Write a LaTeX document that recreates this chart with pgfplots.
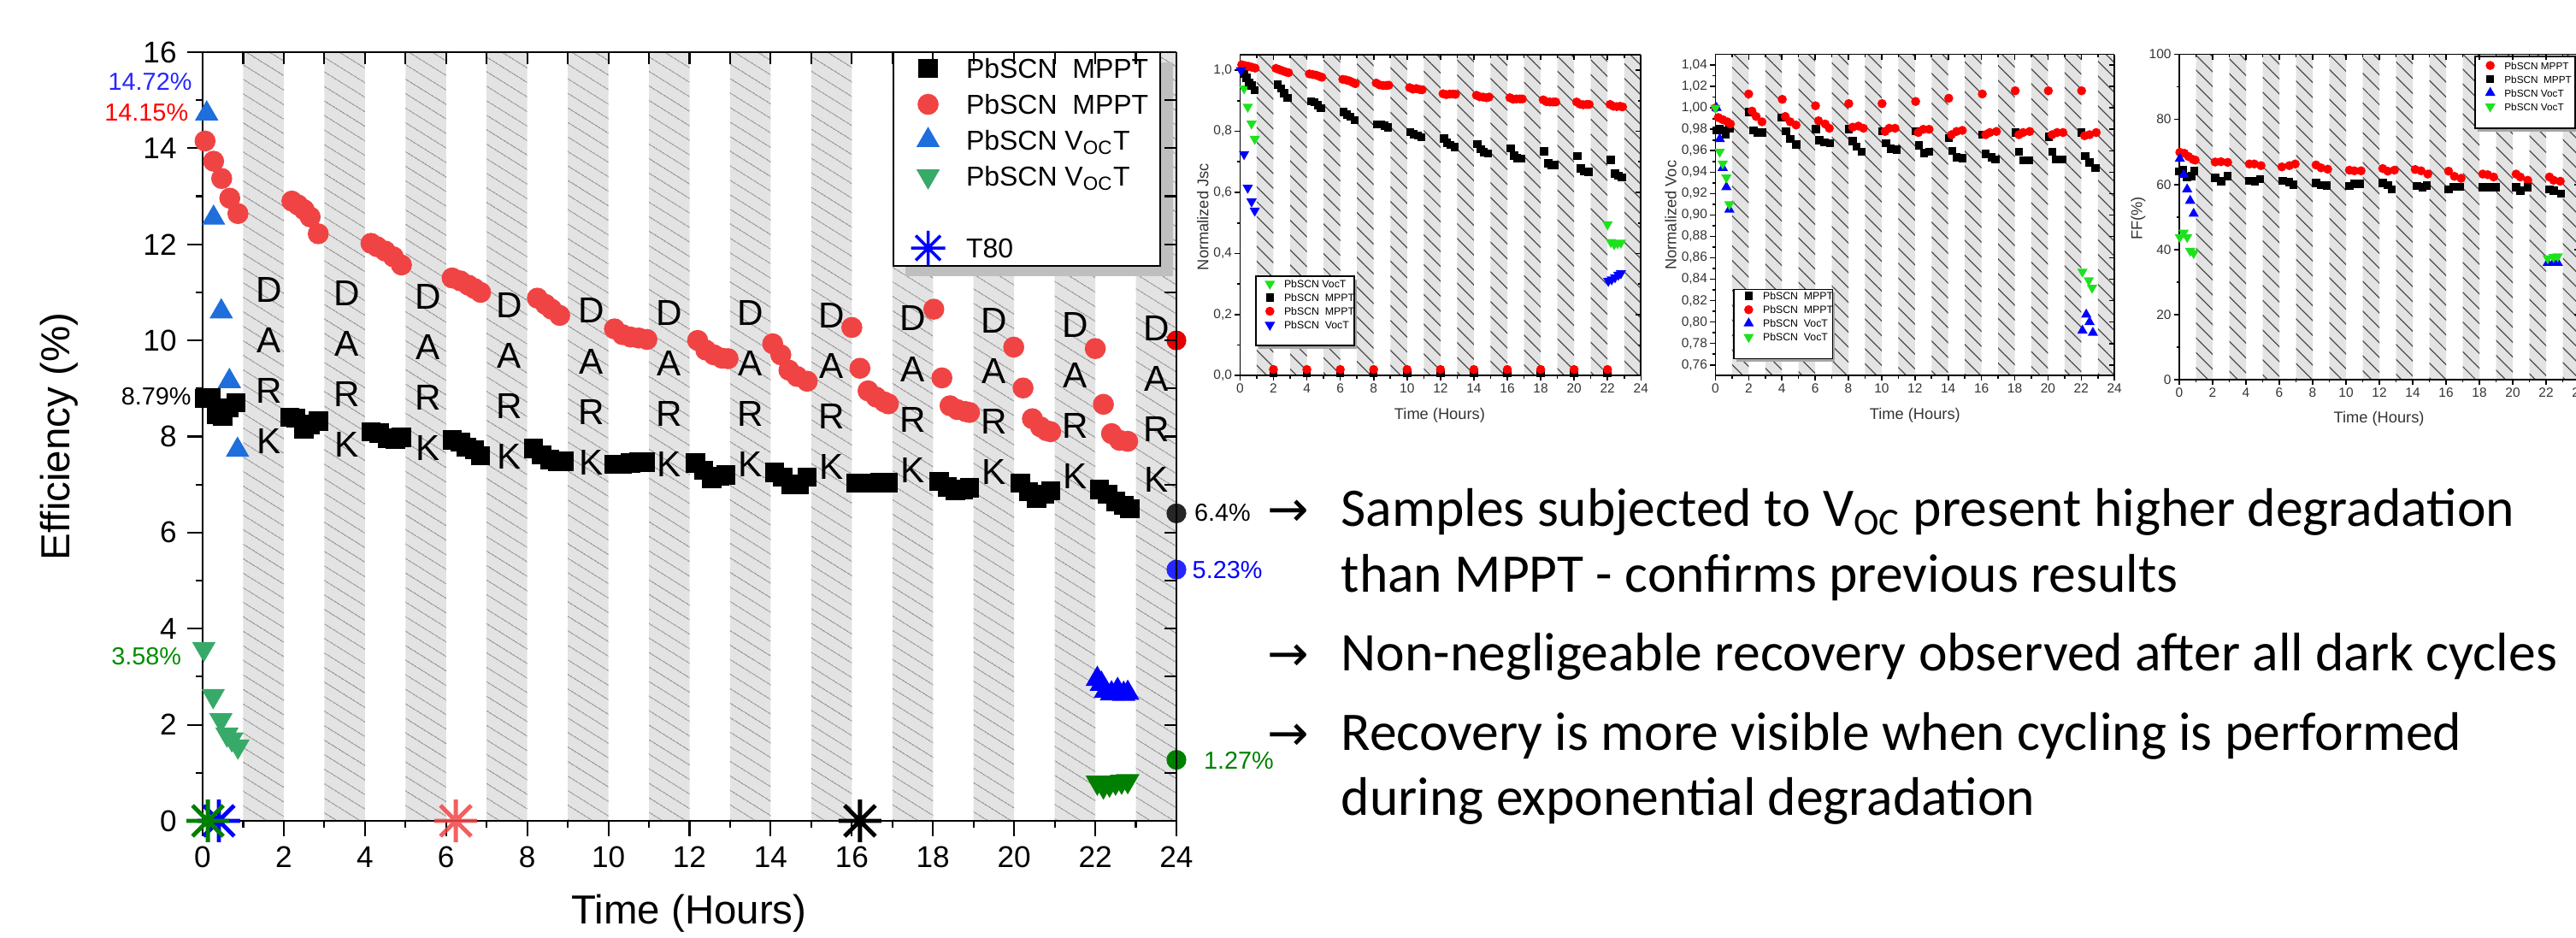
\documentclass[border=0pt]{standalone}
\usepackage{fontspec}
\setmainfont{Liberation Sans}
\newfontfamily\calibri{Carlito}
\newfontfamily\dejavu{DejaVu Sans}
\usepackage{pgfplots}
\pgfplotsset{compat=1.18}
\usetikzlibrary{patterns.meta}

\definecolor{mred}{RGB}{240,68,68}
\definecolor{mblue}{RGB}{30,110,220}
\definecolor{mgreen}{RGB}{55,170,105}
\definecolor{dgreen}{RGB}{0,128,0}
\definecolor{pblue}{RGB}{0,0,255}
\definecolor{stripegray}{RGB}{227,227,227}
\definecolor{lgreen}{RGB}{30,225,30}

% eight-spoke asterisk used for the T80 points
\pgfdeclareplotmark{ast8}{%
  \pgfpathmoveto{\pgfqpoint{-\pgfplotmarksize}{0pt}}%
  \pgfpathlineto{\pgfqpoint{\pgfplotmarksize}{0pt}}%
  \pgfpathmoveto{\pgfqpoint{0pt}{-\pgfplotmarksize}}%
  \pgfpathlineto{\pgfqpoint{0pt}{\pgfplotmarksize}}%
  \pgfpathmoveto{\pgfqpoint{-0.72\pgfplotmarksize}{-0.72\pgfplotmarksize}}%
  \pgfpathlineto{\pgfqpoint{0.72\pgfplotmarksize}{0.72\pgfplotmarksize}}%
  \pgfpathmoveto{\pgfqpoint{-0.72\pgfplotmarksize}{0.72\pgfplotmarksize}}%
  \pgfpathlineto{\pgfqpoint{0.72\pgfplotmarksize}{-0.72\pgfplotmarksize}}%
  \pgfusepathqstroke}

\pgfplotsset{
  dark/.style n args={4}{forget plot, const plot, draw=none, fill=stripegray,
    postaction={pattern={Lines[angle=#1,distance=#2,line width=#3]}, pattern color=#4}},
  legimg/.style={legend image code/.code={\draw[##1] plot coordinates {(0mm,0mm)}; \path (-#1,0mm) (#1,0mm);}},
  astleg/.style={legend image code/.code={\draw[##1, mark size=5.7pt, line width=1pt] plot coordinates {(0mm,0mm)}; \path (-2.6mm,0mm) (2.6mm,0mm);}},
  small/.style={scale only axis, anchor=south west, xmin=0, xmax=24,
    xtick={0,2,...,24}, minor xtick={1,3,...,23},
    axis x line*=bottom, axis y line*=left, tick align=outside,
    major tick length=0.6mm, minor tick length=0.35mm,
    axis line style={line width=0.5pt}, every tick/.style={black, line width=0.45pt},
    /pgf/number format/assume math mode=true,
    tick label style={font=\fontsize{4.4}{5}\selectfont, text=black!80, inner sep=0.8pt},
    label style={font=\fontsize{5.2}{6}\selectfont, text=black!80},
    xlabel={Time (Hours)}, axis on top,
    legend style={draw=none, fill=none, anchor=north west, inner sep=0pt, outer sep=0pt,
      font=\fontsize{3.5}{4}\selectfont, column sep=0.5mm, row sep=0pt,
      nodes={inner sep=0pt, text height=1.25mm, text depth=0.35mm}},
    legend cell align=left},
  smallover/.style={scale only axis, anchor=south west, xmin=0, xmax=24,
    axis x line*=top, axis y line*=right, tick align=inside,
    xtick={0,2,...,24}, minor xtick={1,3,...,23}, xticklabels={}, yticklabels={},
    major tick length=0.6mm, minor tick length=0.35mm,
    axis line style={line width=0.5pt}, every tick/.style={black, line width=0.45pt}},
}

\begin{document}
\begin{tikzpicture}
\useasboundingbox (0,0) rectangle (301.3mm,109.7mm);

%================ main efficiency chart ================
\begin{axis}[
  at={(23.7mm,13.7mm)}, anchor=south west, scale only axis,
  width=113.9mm, height=89.9mm,
  xmin=0, xmax=24, ymin=0, ymax=16,
  xtick={0,2,...,24}, ytick={0,2,...,16},
  minor xtick={1,3,...,23}, minor ytick={1,3,...,15},
  axis x line*=bottom, axis y line*=left, tick align=outside,
  major tick length=1.8mm, minor tick length=0.8mm,
  axis line style={line width=0.6pt},
  every tick/.style={black, line width=0.6pt},
  /pgf/number format/assume math mode=true,
  tick label style={font=\fontsize{10}{12}\selectfont},
  xlabel={Time (Hours)}, ylabel={Efficiency (\%)},
  label style={font=\fontsize{13.5}{16}\selectfont},
  xlabel style={at={(axis description cs:0.4996,-0.1346)}, anchor=base},
  ylabel style={at={(axis description cs:-0.1475,0.5)}, anchor=center},
  clip=false, axis on top,
  legend style={at={(axis description cs:0.720,1.0022)}, anchor=north west,
    draw=none, fill=none, inner sep=0pt, outer sep=0pt,
    column sep=1.6mm, row sep=0pt, font=\fontsize{9.1}{10}\selectfont,
    nodes={inner sep=0pt, text height=3.25mm, text depth=0.95mm}},
  legend cell align=left,
]
% dark periods
\addplot[dark={-32}{4pt}{0.3pt}{black!45}] coordinates {(0,0) (1,16) (2,0) (3,16) (4,0) (5,16) (6,0) (7,16) (8,0) (9,16) (10,0) (11,16) (12,0) (13,16) (14,0) (15,16) (16,0) (17,16) (18,0) (19,16) (20,0) (21,16) (22,0) (23,16) (24,16)} \closedcycle;

% legend frame with shadow
\fill[black!25] (axis description cs:0.7217,0.9867) rectangle (axis description cs:0.9965,0.7086);
\draw[fill=white, line width=0.6pt] (axis description cs:0.7094,1) rectangle (axis description cs:0.9833,0.7219);

\addplot[only marks, mark=square*, mark size=3pt, black, legimg=2.6mm] coordinates {
 (0.05,8.79) (0.2,8.80) (0.35,8.45) (0.5,8.43) (0.65,8.6) (0.82,8.7)
 (2.15,8.4) (2.3,8.38) (2.5,8.15) (2.65,8.25) (2.85,8.32)
 (4.15,8.1) (4.35,8.07) (4.55,7.96) (4.75,7.95) (4.9,7.98)
 (6.15,7.93) (6.35,7.88) (6.5,7.78) (6.7,7.72) (6.85,7.6)
 (8.15,7.75) (8.35,7.62) (8.55,7.52) (8.75,7.48) (8.9,7.48)
 (10.15,7.42) (10.35,7.42) (10.55,7.45) (10.75,7.47) (10.9,7.47)
 (12.15,7.45) (12.35,7.3) (12.55,7.12) (12.75,7.17) (12.9,7.2)
 (14.1,7.25) (14.3,7.15) (14.5,7.0) (14.7,7.0) (14.9,7.15)
 (16.1,7.03) (16.3,7.03) (16.5,7.03) (16.7,7.04) (16.9,7.04)
 (18.15,7.07) (18.35,6.95) (18.55,6.88) (18.75,6.9) (18.9,6.93)
 (20.15,7.03) (20.35,6.85) (20.55,6.72) (20.75,6.8) (20.9,6.87)
 (22.1,6.9) (22.3,6.8) (22.5,6.65) (22.7,6.57) (22.85,6.5)};
\addlegendentry{PbSCN\ \ MPPT}
\addplot[only marks, mark=*, mark size=3.3pt, mred, legimg=2.6mm] coordinates {
 (0.06,14.15) (0.27,13.73) (0.47,13.37) (0.67,12.96) (0.87,12.64)
 (2.2,12.9) (2.35,12.82) (2.5,12.72) (2.65,12.57) (2.85,12.22)
 (4.15,12.02) (4.3,11.95) (4.5,11.86) (4.7,11.74) (4.9,11.57)
 (6.15,11.3) (6.35,11.24) (6.55,11.15) (6.7,11.08) (6.85,11.0)
 (8.25,10.88) (8.45,10.75) (8.6,10.65) (8.8,10.52)
 (10.15,10.24) (10.35,10.12) (10.55,10.07) (10.75,10.05) (10.95,10.02)
 (12.2,10.0) (12.4,9.8) (12.6,9.7) (12.8,9.63) (12.95,9.62)
 (14.05,9.93) (14.25,9.7) (14.45,9.38) (14.65,9.25) (14.9,9.15)
 (16.0,10.27) (16.2,9.42) (16.4,8.95) (16.6,8.82) (16.8,8.72) (16.9,8.68)
 (18.02,10.65) (18.22,9.22) (18.42,8.64) (18.6,8.56) (18.8,8.52) (18.9,8.5)
 (19.99,9.86) (20.22,9.01) (20.45,8.37) (20.65,8.2) (20.8,8.12) (20.9,8.1)
 (22.0,9.83) (22.2,8.67) (22.4,8.06) (22.6,7.92) (22.8,7.9)};
\addlegendentry{PbSCN\ \ MPPT}
\addplot[only marks, mark=triangle*, mark size=4.1pt, mblue, legimg=2.6mm] coordinates {
 (0.1,14.72) (0.27,12.55) (0.46,10.6) (0.66,9.15) (0.86,7.72)};
\addlegendentry{PbSCN V\textsubscript{OC}T}
\addplot[only marks, mark=triangle*, mark size=4.1pt, mark options={rotate=180}, mgreen, legimg=2.6mm] coordinates {
 (0.03,3.58) (0.26,2.6) (0.45,2.1) (0.6,1.8) (0.72,1.7) (0.87,1.55)};
\addlegendentry{PbSCN V\textsubscript{OC}T}
\addlegendimage{empty legend}
\addlegendentry{}
\addplot[only marks, mark=ast8, mark size=7.1pt, line width=1.4pt, pblue, astleg] coordinates {(0.4,0)};
\addlegendentry{T80}
\addplot[forget plot, only marks, mark=ast8, mark size=7.1pt, line width=1.4pt, dgreen] coordinates {(0.13,0)};
\addplot[forget plot, only marks, mark=ast8, mark size=7.1pt, line width=1.4pt, mred, opacity=0.85] coordinates {(6.24,0)};
\addplot[forget plot, only marks, mark=ast8, mark size=7.1pt, line width=1.4pt, black] coordinates {(16.2,0)};

% last cycle of the V_OC samples
\addplot[forget plot, only marks, mark=triangle*, mark size=4.1pt, pblue] coordinates {
 (22.05,2.95) (22.15,2.85) (22.25,2.7) (22.4,2.65) (22.55,2.72) (22.7,2.64) (22.8,2.66)};
\addplot[forget plot, only marks, mark=triangle*, mark size=4.1pt, mark options={rotate=180}, dgreen] coordinates {
 (22.05,0.8) (22.2,0.72) (22.35,0.76) (22.5,0.8) (22.65,0.82) (22.8,0.83)};

% end values at 24 h
\addplot[forget plot, only marks, mark=*, mark size=3.1pt, red!90!black] coordinates {(24,10.0)};
\addplot[forget plot, only marks, mark=*, mark size=3.1pt, black!85] coordinates {(24,6.4)};
\addplot[forget plot, only marks, mark=*, mark size=3.1pt, pblue!85!white] coordinates {(24,5.23)};
\addplot[forget plot, only marks, mark=*, mark size=3.1pt, dgreen] coordinates {(24,1.27)};

\begin{scope}[every node/.style={inner sep=0pt, font=\fontsize{8.2}{10}\selectfont}]
\node[anchor=east, text=pblue!85!white] at (axis cs:-0.25,15.39) {14.72\%};
\node[anchor=east, text=red] at (axis cs:-0.34,14.74) {14.15\%};
\node[anchor=east] at (axis cs:-0.27,8.84) {8.79\%};
\node[anchor=east, text=green!55!black] at (axis cs:-0.51,3.43) {3.58\%};
\node[anchor=west] at (axis cs:24.43,6.41) {6.4\%};
\node[anchor=west, text=pblue] at (axis cs:24.38,5.23) {5.23\%};
\node[anchor=west, text=green!50!black] at (axis cs:24.66,1.25) {1.27\%};
\end{scope}

\begin{scope}[every node/.style={inner sep=0pt, align=center, font=\fontsize{12}{16.8}\selectfont}]
\node at (axis cs:1.63,9.47) {D\\A\\R\\K};
\node at (axis cs:3.55,9.41) {D\\A\\R\\K};
\node at (axis cs:5.56,9.34) {D\\A\\R\\K};
\node at (axis cs:7.55,9.15) {D\\A\\R\\K};
\node at (axis cs:9.58,9.04) {D\\A\\R\\K};
\node at (axis cs:11.5,9.0) {D\\A\\R\\K};
\node at (axis cs:13.5,9.0) {D\\A\\R\\K};
\node at (axis cs:15.5,8.95) {D\\A\\R\\K};
\node at (axis cs:17.5,8.88) {D\\A\\R\\K};
\node at (axis cs:19.5,8.84) {D\\A\\R\\K};
\node at (axis cs:21.5,8.75) {D\\A\\R\\K};
\node at (axis cs:23.5,8.68) {D\\A\\R\\K};
\end{scope}
\end{axis}

% top and right ticks pointing inwards
\begin{axis}[
  at={(23.7mm,13.7mm)}, anchor=south west, scale only axis,
  width=113.9mm, height=89.9mm,
  xmin=0, xmax=24, ymin=0, ymax=16,
  axis x line*=top, axis y line*=right, tick align=inside,
  xtick={0,2,...,24}, minor xtick={1,3,...,23},
  ytick={0,2,...,16}, minor ytick={1,3,...,15},
  xticklabels={}, yticklabels={},
  major tick length=1.4mm, minor tick length=1.4mm,
  axis line style={line width=0.6pt}, every tick/.style={black, line width=0.6pt}]
\addplot[draw=none, forget plot] coordinates {(0,0)};
\end{axis}

%================ normalized Jsc ================
\begin{axis}[small, at={(145.04mm,65.77mm)}, width=46.89mm, height=37.5mm,
  ymin=0, ymax=1.05, ytick={0,0.2,0.4,0.6,0.8,1}, minor ytick={0.1,0.3,0.5,0.7,0.9},
  yticklabel style={/pgf/number format/.cd, fixed, fixed zerofill, precision=1, use comma},
  ylabel={Normalized Jsc},
  xlabel style={at={(axis description cs:0.498,-0.124)}, anchor=center},
  ylabel style={at={(axis description cs:-0.093,0.495)}, anchor=center},
  legend style={at={(axis description cs:0.0495,0.3075)}}]
\addplot[dark={-45}{3.5pt}{0.35pt}{black!70}] coordinates {(0,0) (1,1.05) (2,0) (3,1.05) (4,0) (5,1.05) (6,0) (7,1.05) (8,0) (9,1.05) (10,0) (11,1.05) (12,0) (13,1.05) (14,0) (15,1.05) (16,0) (17,1.05) (18,0) (19,1.05) (20,0) (21,1.05) (22,0) (23,1.05) (24,1.05)} \closedcycle;
\fill[black!35] (axis description cs:0.046,0.300) rectangle (axis description cs:0.291,0.084);
\draw[fill=white, line width=0.5pt] (axis description cs:0.0397,0.310) rectangle (axis description cs:0.2849,0.094);
\addplot[only marks, mark=triangle*, mark size=1.6pt, mark options={rotate=180}, lgreen, legimg=1.1mm] coordinates {
 (0.24,0.94) (0.46,0.88) (0.69,0.825) (0.88,0.775) (22.0,0.495) (22.2,0.437) (22.4,0.43) (22.6,0.433) (22.8,0.435)};
\addlegendentry{PbSCN VocT}
\addplot[only marks, mark=square*, mark size=1.15pt, black, legimg=1.1mm] coordinates {
 (0.25,0.988) (0.4,0.975) (0.55,0.96) (0.7,0.95) (0.88,0.935)
 (2.25,0.953) (2.45,0.94) (2.65,0.925) (2.85,0.91)
 (4.25,0.898) (4.45,0.895) (4.65,0.886) (4.85,0.876)
 (6.2,0.863) (6.4,0.855) (6.6,0.848) (6.85,0.836)
 (8.2,0.823) (8.45,0.823) (8.65,0.818) (8.85,0.813)
 (10.2,0.798) (10.4,0.79) (10.65,0.786) (10.85,0.78)
 (12.2,0.776) (12.4,0.762) (12.6,0.755) (12.85,0.748)
 (14.2,0.758) (14.4,0.742) (14.6,0.732) (14.85,0.728)
 (16.2,0.744) (16.4,0.72) (16.6,0.712) (16.85,0.71)
 (18.2,0.735) (18.45,0.695) (18.65,0.688) (18.85,0.69)
 (20.2,0.719) (20.4,0.678) (20.6,0.668) (20.85,0.667)
 (22.2,0.707) (22.45,0.662) (22.65,0.655) (22.85,0.649)
 (2,0.008) (4,0.008) (6,0.008) (8,0.008) (10,0.008) (12,0.008) (14,0.008) (16,0.008) (18,0.008) (20,0.008) (22,0.008)};
\addlegendentry{PbSCN\ \ MPPT}
\addplot[only marks, mark=*, mark size=1.3pt, red, legimg=1.1mm] coordinates {
 (0.1,1.018) (0.3,1.015) (0.5,1.013) (0.7,1.01) (0.9,1.007)
 (2.15,1.006) (2.35,1.002) (2.55,0.998) (2.75,0.994) (2.9,0.992)
 (4.15,0.988) (4.35,0.986) (4.55,0.984) (4.75,0.98) (4.9,0.977)
 (6.15,0.97) (6.35,0.968) (6.55,0.965) (6.75,0.96) (6.9,0.956)
 (8.15,0.958) (8.35,0.952) (8.55,0.95) (8.75,0.95) (8.9,0.951)
 (10.15,0.943) (10.35,0.938) (10.55,0.94) (10.75,0.937) (10.9,0.936)
 (12.15,0.923) (12.35,0.92) (12.55,0.922) (12.75,0.922) (12.9,0.921)
 (14.15,0.918) (14.35,0.913) (14.55,0.912) (14.75,0.91) (14.9,0.912)
 (16.15,0.91) (16.35,0.905) (16.55,0.906) (16.75,0.906) (16.9,0.906)
 (18.15,0.903) (18.35,0.897) (18.55,0.896) (18.75,0.896) (18.9,0.896)
 (20.15,0.896) (20.35,0.889) (20.55,0.887) (20.75,0.888) (20.9,0.888)
 (22.15,0.888) (22.35,0.882) (22.55,0.881) (22.75,0.882) (22.9,0.88)
 (2,0.02) (4,0.02) (6,0.02) (8,0.02) (10,0.02) (12,0.02) (14,0.02) (16,0.02) (18,0.02) (20,0.02) (22,0.02)};
\addlegendentry{PbSCN\ \ MPPT}
\addplot[only marks, mark=triangle*, mark size=1.6pt, mark options={rotate=180}, pblue, legimg=1.1mm] coordinates {
 (0.05,1.0) (0.24,0.725) (0.46,0.615) (0.69,0.57) (0.88,0.54)
 (22.05,0.31) (22.25,0.315) (22.45,0.322) (22.65,0.33) (22.8,0.335)};
\addlegendentry{PbSCN\ \ VocT}
\end{axis}
\begin{axis}[smallover, at={(145.04mm,65.77mm)}, width=46.89mm, height=37.5mm,
  ymin=0, ymax=1.05, ytick={0,0.2,0.4,0.6,0.8,1}, minor ytick={0.1,0.3,0.5,0.7,0.9}]
\addplot[draw=none, forget plot] coordinates {(0,0)};
\end{axis}

%================ normalized Voc ================
\begin{axis}[small, at={(200.64mm,65.77mm)}, width=46.68mm, height=37.57mm,
  ymin=0.75, ymax=1.05,
  ytick={0.76,0.78,0.8,0.82,0.84,0.86,0.88,0.9,0.92,0.94,0.96,0.98,1,1.02,1.04},
  minor ytick={0.77,0.79,0.81,0.83,0.85,0.87,0.89,0.91,0.93,0.95,0.97,0.99,1.01,1.03},
  yticklabel style={/pgf/number format/.cd, fixed, fixed zerofill, precision=2, use comma},
  ylabel={Normalized Voc},
  xlabel style={at={(axis description cs:0.5,-0.124)}, anchor=center},
  ylabel style={at={(axis description cs:-0.112,0.499)}, anchor=center},
  legend style={at={(axis description cs:0.0583,0.269)}}]
\addplot[dark={-45}{3.5pt}{0.35pt}{black!70}] coordinates {(0,0) (1,1.05) (2,0) (3,1.05) (4,0) (5,1.05) (6,0) (7,1.05) (8,0) (9,1.05) (10,0) (11,1.05) (12,0) (13,1.05) (14,0) (15,1.05) (16,0) (17,1.05) (18,0) (19,1.05) (20,0) (21,1.05) (22,0) (23,1.05) (24,1.05)} \closedcycle;
\fill[black!35] (axis description cs:0.0526,0.258) rectangle (axis description cs:0.3,0.0424);
\draw[fill=white, line width=0.5pt] (axis description cs:0.0463,0.268) rectangle (axis description cs:0.2939,0.0524);
\addplot[only marks, mark=square*, mark size=1.15pt, black, legimg=1.1mm] coordinates {
 (0.07,0.979) (0.25,0.98) (0.45,0.979) (0.62,0.975) (0.85,0.981)
 (2.0,0.996) (2.3,0.979) (2.55,0.977) (2.8,0.977)
 (3.98,0.991) (4.25,0.978) (4.5,0.971) (4.85,0.966)
 (6.04,0.98) (6.25,0.97) (6.55,0.968) (6.9,0.967)
 (8.02,0.98) (8.25,0.969) (8.5,0.964) (8.8,0.959)
 (10.04,0.978) (10.25,0.967) (10.55,0.962) (10.9,0.961)
 (12.04,0.978) (12.25,0.965) (12.55,0.958) (12.85,0.959)
 (14.03,0.972) (14.25,0.96) (14.5,0.954) (14.85,0.953)
 (16.05,0.975) (16.25,0.957) (16.6,0.954) (16.85,0.952)
 (18.05,0.977) (18.25,0.959) (18.5,0.951) (18.85,0.951)
 (20.05,0.973) (20.25,0.959) (20.5,0.952) (20.85,0.952)
 (22.0,0.977) (22.25,0.955) (22.5,0.949) (22.85,0.944)};
\addlegendentry{PbSCN\ \ MPPT}
\addplot[only marks, mark=*, mark size=1.3pt, red, legimg=1.1mm] coordinates {
 (0.0,1.0) (0.17,0.991) (0.44,0.989) (0.72,0.987) (0.9,0.985)
 (2.0,1.013) (2.2,0.997) (2.45,0.992) (2.8,0.987)
 (4.02,1.008) (4.2,0.992) (4.5,0.987) (4.85,0.984)
 (6.02,1.002) (6.2,0.988) (6.6,0.985) (6.85,0.981)
 (8.02,1.004) (8.25,0.982) (8.6,0.983) (8.9,0.981)
 (10.02,1.004) (10.2,0.978) (10.45,0.981) (10.8,0.981)
 (12.04,1.006) (12.2,0.977) (12.5,0.98) (12.85,0.98)
 (14.03,1.009) (14.2,0.975) (14.5,0.978) (14.85,0.979)
 (16.05,1.013) (16.25,0.975) (16.5,0.977) (16.9,0.978)
 (18.03,1.016) (18.25,0.975) (18.5,0.977) (18.9,0.978)
 (20.02,1.016) (20.25,0.975) (20.55,0.977) (20.9,0.977)
 (22.02,1.016) (22.2,0.974) (22.5,0.975) (22.9,0.977)};
\addlegendentry{PbSCN\ \ MPPT}
\addplot[only marks, mark=triangle*, mark size=1.6pt, pblue, legimg=1.1mm] coordinates {
 (0.07,1.0) (0.26,0.971) (0.44,0.944) (0.66,0.926) (0.84,0.905)
 (22.07,0.792) (22.3,0.807) (22.5,0.8) (22.7,0.79)};
\addlegendentry{PbSCN\ \ VocT}
\addplot[only marks, mark=triangle*, mark size=1.6pt, mark options={rotate=180}, lgreen, legimg=1.1mm] coordinates {
 (0.0,1.0) (0.26,0.959) (0.44,0.948) (0.66,0.935) (0.84,0.91)
 (22.07,0.847) (22.45,0.839) (22.65,0.832)};
\addlegendentry{PbSCN\ \ VocT}
\end{axis}
\begin{axis}[smallover, at={(200.64mm,65.77mm)}, width=46.68mm, height=37.57mm,
  ymin=0.75, ymax=1.05,
  ytick={0.76,0.78,0.8,0.82,0.84,0.86,0.88,0.9,0.92,0.94,0.96,0.98,1,1.02,1.04}]
\addplot[draw=none, forget plot] coordinates {(0,0.8)};
\end{axis}

%================ fill factor ================
\begin{axis}[small, at={(254.9mm,65.3mm)}, width=46.8mm, height=38.04mm,
  ymin=0, ymax=100, ytick={0,20,...,100}, minor ytick={10,30,...,90},
  ylabel={FF(\%)},
  xlabel style={at={(axis description cs:0.499,-0.121)}, anchor=center},
  ylabel style={at={(axis description cs:-0.103,0.496)}, anchor=center},
  legend style={at={(axis description cs:0.752,0.9869)}, font=\fontsize{3.35}{4}\selectfont}]
\addplot[dark={-45}{3.5pt}{0.35pt}{black!70}] coordinates {(0,0) (1,100) (2,0) (3,100) (4,0) (5,100) (6,0) (7,100) (8,0) (9,100) (10,0) (11,100) (12,0) (13,100) (14,0) (15,100) (16,0) (17,100) (18,0) (19,100) (20,0) (21,100) (22,0) (23,100) (24,100)} \closedcycle;
\fill[black!35] (axis description cs:0.7456,0.984) rectangle (axis description cs:0.9956,0.763);
\draw[fill=white, line width=0.5pt] (axis description cs:0.7393,0.9937) rectangle (axis description cs:0.9893,0.7729);
\addplot[only marks, mark=*, mark size=1.3pt, red, legimg=1.1mm] coordinates {
 (0.03,69.9) (0.3,69.6) (0.55,68.6) (0.82,67.7) (0.95,67.5)
 (2.15,66.9) (2.5,67.0) (2.9,66.8)
 (4.2,66.3) (4.5,66.3) (4.9,65.8)
 (6.15,65.4) (6.6,65.8) (6.95,66.3)
 (8.2,66.0) (8.5,65.1) (8.9,64.7)
 (10.2,64.4) (10.5,64.2) (10.9,64.2)
 (12.2,64.9) (12.5,64.1) (12.9,64.4)
 (14.15,64.6) (14.5,64.2) (14.9,63.2)
 (16.15,64.1) (16.5,62.5) (16.9,61.9)
 (18.2,63.2) (18.5,63.0) (18.85,62.3)
 (20.2,63.2) (20.45,62.3) (20.9,61.3)
 (22.2,62.3) (22.45,61.3) (22.85,61.0)};
\addlegendentry{PbSCN MPPT}
\addplot[only marks, mark=square*, mark size=1.15pt, black, legimg=1.1mm] coordinates {
 (0.0,64.0) (0.2,64.4) (0.47,62.3) (0.73,62.5) (0.9,64.1)
 (2.15,62.1) (2.5,61.0) (2.9,62.5)
 (4.2,61.1) (4.55,61.0) (4.85,61.6)
 (6.2,61.1) (6.6,60.7) (6.85,59.9)
 (8.2,60.4) (8.5,59.8) (8.85,59.7)
 (10.2,59.5) (10.5,60.2) (10.85,60.2)
 (12.2,60.4) (12.5,59.8) (12.75,58.5)
 (14.25,59.5) (14.6,59.1) (14.85,59.7)
 (16.15,58.5) (16.45,59.3) (16.85,59.3)
 (18.2,59.1) (18.5,59.1) (19.0,59.1)
 (20.2,59.1) (20.45,58.1) (20.9,59.1)
 (22.2,58.5) (22.45,58.1) (22.9,57.2)};
\addlegendentry{PbSCN\ \ MPPT}
\addplot[only marks, mark=triangle*, mark size=1.6pt, pblue, legimg=1.1mm] coordinates {
 (0.03,67.9) (0.26,63.0) (0.47,58.5) (0.65,55.0) (0.86,51.0)
 (22.1,35.9) (22.45,36.0) (22.7,35.9)};
\addlegendentry{PbSCN VocT}
\addplot[only marks, mark=triangle*, mark size=1.6pt, mark options={rotate=180}, lgreen, legimg=1.1mm] coordinates {
 (0.03,43.8) (0.26,45.2) (0.47,43.8) (0.65,39.6) (0.86,38.9)
 (22.1,37.3) (22.45,37.7) (22.7,37.9)};
\addlegendentry{PbSCN VocT}
\end{axis}
\begin{axis}[smallover, at={(254.9mm,65.3mm)}, width=46.8mm, height=38.04mm,
  ymin=0, ymax=100, ytick={0,20,...,100}]
\addplot[draw=none, forget plot] coordinates {(0,0)};
\end{axis}

%================ conclusions ================
\begin{scope}[every node/.style={anchor=base west, inner sep=0pt}]
\node[font=\dejavu\fontsize{16.5}{20}\selectfont] at (148.2mm,48.1mm) {→};
\node[font=\dejavu\fontsize{16.5}{20}\selectfont] at (148.2mm,31.2mm) {→};
\node[font=\dejavu\fontsize{16.5}{20}\selectfont] at (148.2mm,21.95mm) {→};
\node[font=\calibri\fontsize{18.1}{20}\selectfont] at (156.8mm,48.1mm) {Samples subjected to V\textsubscript{OC} present higher degradation};
\node[font=\calibri\fontsize{18.1}{20}\selectfont] at (156.8mm,40.4mm) {than MPPT - confirms previous results};
\node[font=\calibri\fontsize{18.1}{20}\selectfont] at (156.8mm,31.2mm) {Non-negligeable recovery observed after all dark cycles};
\node[font=\calibri\fontsize{18.1}{20}\selectfont] at (156.8mm,21.95mm) {Recovery is more visible when cycling is performed};
\node[font=\calibri\fontsize{18.1}{20}\selectfont] at (156.8mm,14.3mm) {during exponential degradation};
\end{scope}
\end{tikzpicture}
\end{document}
